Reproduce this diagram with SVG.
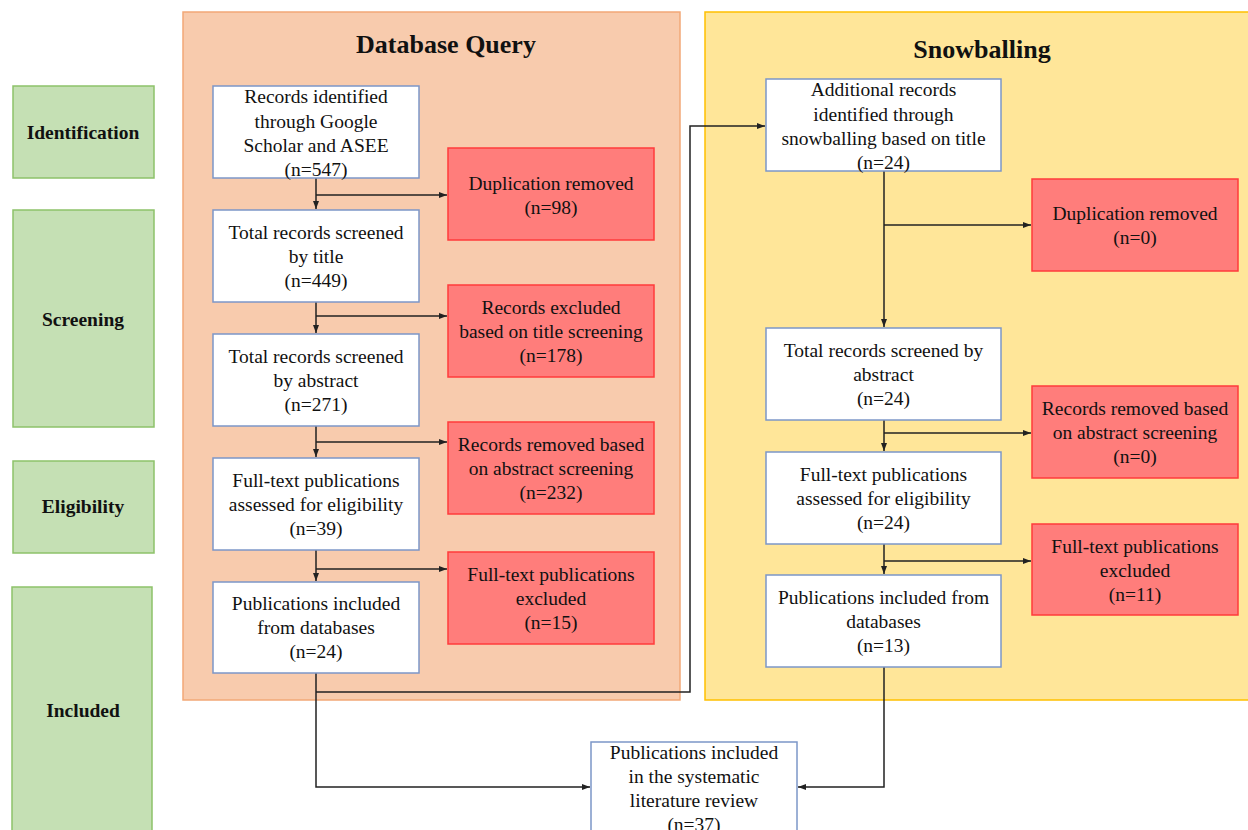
<svg xmlns="http://www.w3.org/2000/svg" width="1248" height="830" viewBox="0 0 1248 830">
<style>
.t{font-family:"Liberation Serif","Times New Roman",serif;font-size:19.5px;fill:#111;text-anchor:middle}
.b{font-weight:bold}
.h{font-family:"Liberation Serif","Times New Roman",serif;font-size:26px;font-weight:bold;fill:#111;text-anchor:middle}
.wb{fill:#fff;stroke:#7C97C8;stroke-width:1.5}
.rb{fill:#FF7D7B;stroke:#FF3B3B;stroke-width:1.5}
.gb{fill:#C5E0B4;stroke:#8DC26A;stroke-width:1.5}
.c{fill:none;stroke:#222;stroke-width:1.5}
</style>
<defs>
<marker id="ah" markerUnits="userSpaceOnUse" markerWidth="8" markerHeight="8" viewBox="0 0 8 8" refX="8" refY="4" orient="auto">
<path d="M0,1 L8,4 L0,7 Z" fill="#222"/>
</marker>
</defs>
<rect width="1248" height="830" fill="#fff"/>
<g id="panel-db">
<rect x="183" y="12" width="497" height="688" fill="#F8CBAD" stroke="#F2A877" stroke-width="1.5"/>
<text class="h" x="446" y="53">Database Query</text>
</g>
<g id="panel-snow">
<rect x="705" y="12" width="545" height="688" fill="#FFE699" stroke="#FFC000" stroke-width="1.5"/>
<text class="h" x="982" y="58">Snowballing</text>
</g>
<g id="stage-identification"><rect class="gb" x="13" y="86" width="141" height="92"/><text class="t b" x="83" y="139">Identification</text></g>
<g id="stage-screening"><rect class="gb" x="13" y="210" width="141" height="217"/><text class="t b" x="83" y="326">Screening</text></g>
<g id="stage-eligibility"><rect class="gb" x="13" y="461" width="141" height="92"/><text class="t b" x="83" y="513">Eligibility</text></g>
<g id="stage-included"><rect class="gb" x="12" y="587" width="140" height="250"/><text class="t b" x="83" y="717">Included</text></g>
<g id="connectors">
<path class="c" d="M316 178 V209" marker-end="url(#ah)"/>
<path class="c" d="M316 195 H447" marker-end="url(#ah)"/>
<path class="c" d="M316 302 V333" marker-end="url(#ah)"/>
<path class="c" d="M316 316 H447" marker-end="url(#ah)"/>
<path class="c" d="M316 426 V457" marker-end="url(#ah)"/>
<path class="c" d="M316 442 H447" marker-end="url(#ah)"/>
<path class="c" d="M316 550 V581" marker-end="url(#ah)"/>
<path class="c" d="M316 569 H447" marker-end="url(#ah)"/>
<path class="c" d="M316 673 V787 H590" marker-end="url(#ah)"/>
<path class="c" d="M316 692 H690 V126 H765" marker-end="url(#ah)"/>
<path class="c" d="M884 171 V327" marker-end="url(#ah)"/>
<path class="c" d="M884 225 H1031" marker-end="url(#ah)"/>
<path class="c" d="M884 420 V451" marker-end="url(#ah)"/>
<path class="c" d="M884 433 H1031" marker-end="url(#ah)"/>
<path class="c" d="M884 544 V574" marker-end="url(#ah)"/>
<path class="c" d="M884 561 H1031" marker-end="url(#ah)"/>
<path class="c" d="M884 667 V787 H798" marker-end="url(#ah)"/>
</g>
<g id="db-identified"><rect class="wb" x="213" y="86" width="206" height="92"/>
<text class="t" x="316" y="103">Records identified</text><text class="t" x="316" y="127.5">through Google</text><text class="t" x="316" y="152">Scholar and ASEE</text><text class="t" x="316" y="176">(n=547)</text></g>
<g id="db-title"><rect class="wb" x="213" y="210" width="206" height="92"/>
<text class="t" x="316" y="239">Total records screened</text><text class="t" x="316" y="263">by title</text><text class="t" x="316" y="287">(n=449)</text></g>
<g id="db-abstract"><rect class="wb" x="213" y="334" width="206" height="92"/>
<text class="t" x="316" y="363">Total records screened</text><text class="t" x="316" y="387">by abstract</text><text class="t" x="316" y="411">(n=271)</text></g>
<g id="db-fulltext"><rect class="wb" x="213" y="458" width="206" height="92"/>
<text class="t" x="316" y="487">Full-text publications</text><text class="t" x="316" y="511">assessed for eligibility</text><text class="t" x="316" y="535">(n=39)</text></g>
<g id="db-included"><rect class="wb" x="213" y="582" width="206" height="91"/>
<text class="t" x="316" y="610">Publications included</text><text class="t" x="316" y="634">from databases</text><text class="t" x="316" y="658">(n=24)</text></g>
<g id="db-dup"><rect class="rb" x="448" y="148" width="206" height="92"/>
<text class="t" x="551" y="190">Duplication removed</text><text class="t" x="551" y="214">(n=98)</text></g>
<g id="db-title-excl"><rect class="rb" x="448" y="285" width="206" height="92"/>
<text class="t" x="551" y="314">Records excluded</text><text class="t" x="551" y="338">based on title screening</text><text class="t" x="551" y="362">(n=178)</text></g>
<g id="db-abs-excl"><rect class="rb" x="448" y="422" width="206" height="92"/>
<text class="t" x="551" y="451">Records removed based</text><text class="t" x="551" y="475">on abstract screening</text><text class="t" x="551" y="499">(n=232)</text></g>
<g id="db-ft-excl"><rect class="rb" x="448" y="552" width="206" height="92"/>
<text class="t" x="551" y="581">Full-text publications</text><text class="t" x="551" y="605">excluded</text><text class="t" x="551" y="629">(n=15)</text></g>
<g id="sb-identified"><rect class="wb" x="766" y="79" width="235" height="92"/>
<text class="t" x="883.5" y="96">Additional records</text><text class="t" x="883.5" y="120.5">identified through</text><text class="t" x="883.5" y="145">snowballing based on title</text><text class="t" x="883.5" y="169">(n=24)</text></g>
<g id="sb-abstract"><rect class="wb" x="766" y="328" width="235" height="92"/>
<text class="t" x="883.5" y="357">Total records screened by</text><text class="t" x="883.5" y="381">abstract</text><text class="t" x="883.5" y="405">(n=24)</text></g>
<g id="sb-fulltext"><rect class="wb" x="766" y="452" width="235" height="92"/>
<text class="t" x="883.5" y="481">Full-text publications</text><text class="t" x="883.5" y="505">assessed for eligibility</text><text class="t" x="883.5" y="529">(n=24)</text></g>
<g id="sb-included"><rect class="wb" x="766" y="575" width="235" height="92"/>
<text class="t" x="883.5" y="604">Publications included from</text><text class="t" x="883.5" y="628">databases</text><text class="t" x="883.5" y="652">(n=13)</text></g>
<g id="sb-dup"><rect class="rb" x="1032" y="179" width="206" height="92"/>
<text class="t" x="1135" y="220">Duplication removed</text><text class="t" x="1135" y="244">(n=0)</text></g>
<g id="sb-abs-excl"><rect class="rb" x="1032" y="386" width="206" height="92"/>
<text class="t" x="1135" y="415">Records removed based</text><text class="t" x="1135" y="439">on abstract screening</text><text class="t" x="1135" y="463">(n=0)</text></g>
<g id="sb-ft-excl"><rect class="rb" x="1032" y="524" width="206" height="91"/>
<text class="t" x="1135" y="553">Full-text publications</text><text class="t" x="1135" y="577">excluded</text><text class="t" x="1135" y="601">(n=11)</text></g>
<g id="final"><rect class="wb" x="591" y="742" width="206" height="100"/>
<text class="t" x="694" y="759">Publications included</text><text class="t" x="694" y="783">in the systematic</text><text class="t" x="694" y="807">literature review</text><text class="t" x="694" y="831">(n=37)</text></g>
</svg>
